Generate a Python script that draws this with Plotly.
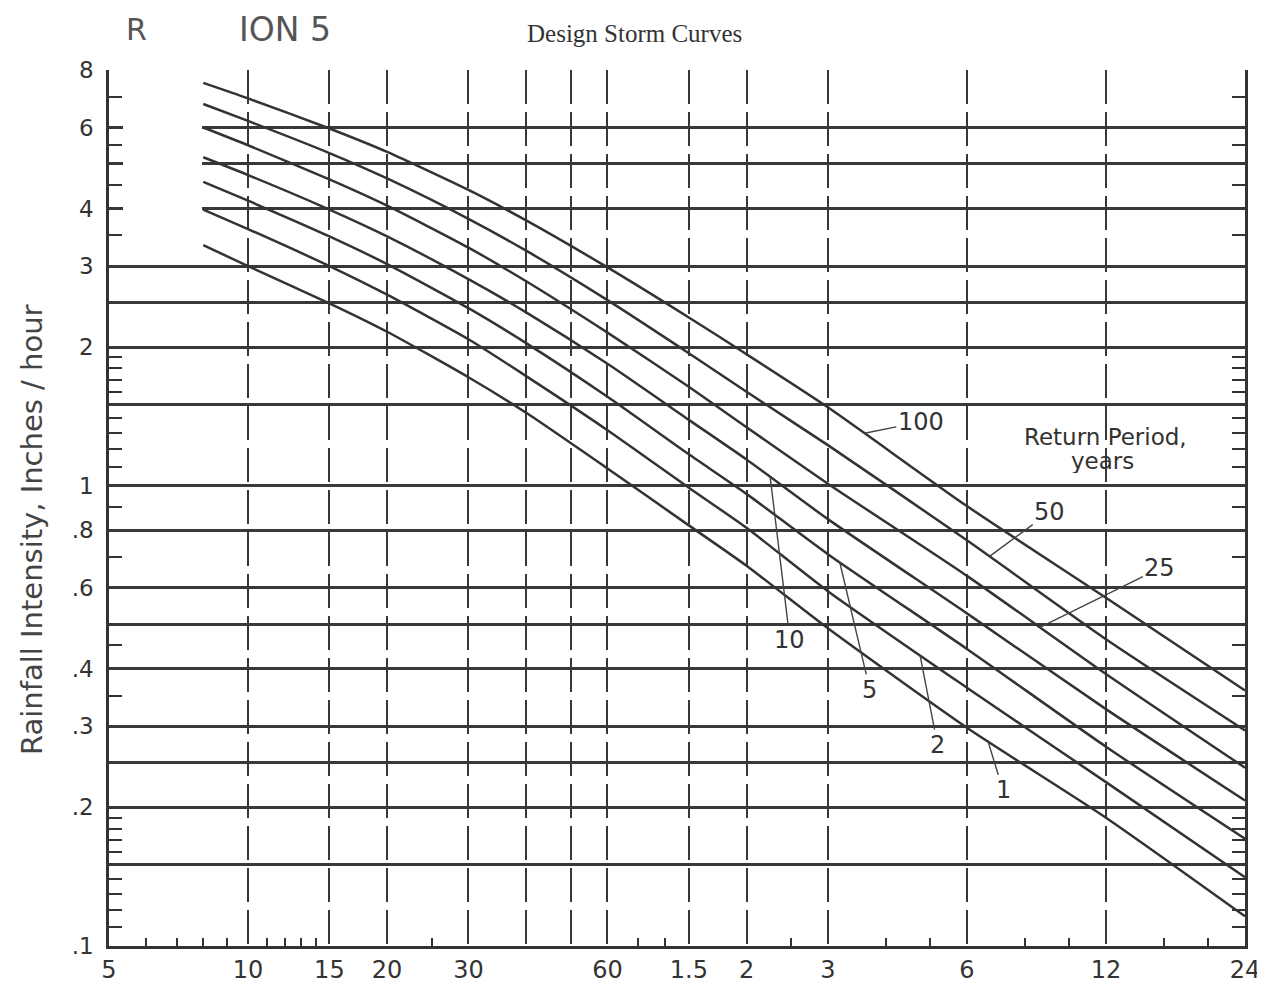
import numpy as np
import plotly.graph_objects as go

# ---------------- data ----------------
durations_min = [8, 10, 15, 20, 30, 40, 60, 90, 120, 180, 360, 720, 1440]
return_periods = ["100", "50", "25", "10", "5", "2", "1"]
i_100 = [7.5, 6.94, 5.97, 5.31, 4.39, 3.77, 2.98, 2.32, 1.93, 1.48, 0.903, 0.571, 0.359]
i_50 = [6.75, 6.20, 5.28, 4.65, 3.80, 3.24, 2.53, 1.94, 1.60, 1.225, 0.761, 0.464, 0.294]
i_25 = [6.0, 5.49, 4.63, 4.06, 3.29, 2.78, 2.15, 1.64, 1.34, 1.01, 0.637, 0.390, 0.244]
i_10 = [5.17, 4.73, 3.98, 3.48, 2.81, 2.38, 1.84, 1.39, 1.14, 0.846, 0.528, 0.327, 0.207]
i_5 = [4.57, 4.16, 3.48, 3.03, 2.43, 2.04, 1.56, 1.17, 0.96, 0.71, 0.442, 0.271, 0.171]
i_2 = [3.98, 3.61, 3.00, 2.60, 2.08, 1.73, 1.32, 0.99, 0.81, 0.59, 0.364, 0.227, 0.141]
i_1 = [3.33, 3.00, 2.49, 2.16, 1.72, 1.44, 1.09, 0.82, 0.67, 0.49, 0.298, 0.190, 0.116]
series = [i_100, i_50, i_25, i_10, i_5, i_2, i_1]

# axis ticks
x_tickvals = [5, 10, 15, 20, 30, 40, 50, 60, 90, 120, 180, 360, 720, 1440]
x_ticktext = ["5", "10", "15", "20", "30", "", "", "60", "1.5", "2", "3", "6", "12", "24"]
x_minor = [6, 7, 8, 9, 11, 12, 13, 14, 25, 70, 80, 150, 240, 300, 480, 600, 960, 1200]
y_tickvals = [0.1, 0.15, 0.2, 0.25, 0.3, 0.4, 0.5, 0.6, 0.8, 1, 1.5, 2, 2.5, 3, 4, 5, 6, 8]
y_ticktext = [".1", "", ".2", "", ".3", ".4", "", ".6", ".8", "1", "", "2", "", "3", "4", "", "6", "8"]
y_minor = [0.11, 0.12, 0.13, 0.14, 0.16, 0.17, 0.18, 0.19, 0.35, 0.45, 0.7, 0.9,
           1.1, 1.2, 1.3, 1.4, 1.6, 1.7, 1.8, 1.9, 3.5, 4.5, 5.5, 7]

# label placement: (duration of pointer on curve, text duration, text intensity)
label_pos = {
    "100": (216, 286, 1.375),
    "50": (403, 544, 0.876),
    "25": (518, 942, 0.662),
    "10": (135, 149, 0.462),
    "5": (191, 222, 0.360),
    "2": (285, 311, 0.273),
    "1": (400, 431, 0.218),
}

X_MIN, X_MAX = 5, 1440
Y_MIN, Y_MAX = 0.1, 8
INK = "#333333"
GRID = "#383838"

fig = go.Figure()
for name, vals in zip(return_periods, series):
    fig.add_trace(go.Scatter(
        x=durations_min, y=vals, mode="lines", name=name,
        line=dict(color=INK, width=2.5, shape="spline", smoothing=0.6),
        hoverinfo="skip", showlegend=False,
    ))


def curve_at(vals, d):
    return float(10 ** np.interp(np.log10(d), np.log10(durations_min), np.log10(vals)))


annotations = []
for name, vals in zip(return_periods, series):
    d_head, d_txt, v_txt = label_pos[name]
    annotations.append(dict(
        x=np.log10(d_head), y=np.log10(curve_at(vals, d_head)), xref="x", yref="y",
        ax=np.log10(d_txt), ay=np.log10(v_txt), axref="x", ayref="y",
        text=name, showarrow=True, arrowhead=0, arrowwidth=1.4, arrowcolor="#444",
        standoff=0, xanchor="center", yanchor="middle",
        font=dict(family="DejaVu Sans", size=24, color="#333"),
    ))

annotations += [
    dict(x=np.log10(719), y=np.log10(1.276), xref="x", yref="y", text="Return Period,",
         xanchor="center", yanchor="middle", height=24, showarrow=False,
         font=dict(family="DejaVu Sans", size=23, color="#333")),
    dict(x=np.log10(709), y=np.log10(1.131), xref="x", yref="y", text="years",
         xanchor="center", yanchor="middle", height=24, showarrow=False,
         font=dict(family="DejaVu Sans", size=23, color="#333")),
    dict(x=0.463, y=1.042, xref="paper", yref="paper", text="Design Storm Curves",
         xanchor="center", yanchor="middle", showarrow=False,
         font=dict(family="Liberation Serif", size=25, color="#333")),
    dict(x=0.0246, y=1.0457, xref="paper", yref="paper", text="R",
         xanchor="center", yanchor="middle", showarrow=False,
         font=dict(family="DejaVu Sans", size=30, color="#555")),
    dict(x=0.155, y=1.0457, xref="paper", yref="paper", text="ION 5",
         xanchor="center", yanchor="middle", showarrow=False,
         font=dict(family="DejaVu Sans", size=33, color="#555")),
    dict(x=-0.0678, y=0.476, xref="paper", yref="paper", text="Rainfall Intensity, Inches / hour",
         textangle=-90, xanchor="center", yanchor="middle", showarrow=False,
         font=dict(family="DejaVu Sans", size=29, color="#444")),
]

# blank (whited-out) corner of the scanned sheet, top-left
LOG_SPAN_X = np.log10(X_MAX) - np.log10(X_MIN)
LOG_SPAN_Y = np.log10(Y_MAX) - np.log10(Y_MIN)
WHITE_X0 = 14 / 1136
WHITE_X1 = (np.log10(7.95) - np.log10(X_MIN)) / LOG_SPAN_X
WHITE_Y0 = (np.log10(3.2) - np.log10(Y_MIN)) / LOG_SPAN_Y
shapes = [dict(type="rect", xref="paper", yref="paper", x0=WHITE_X0, x1=WHITE_X1,
               y0=WHITE_Y0, y1=1.01, fillcolor="white", line=dict(width=0), layer="above")]

# the page body adds an 8 px offset, so the figure is 8 px smaller than the window
fig.update_layout(
    width=1257, height=996,
    margin=dict(l=101, r=20, t=62, b=58),
    paper_bgcolor="white", plot_bgcolor="white",
    template="none", showlegend=False, hovermode=False,
    annotations=annotations, shapes=shapes,
    xaxis=dict(
        type="log", range=[np.log10(X_MIN), np.log10(X_MAX)], automargin=False,
        tickmode="array", tickvals=x_tickvals, ticktext=x_ticktext, ticks="",
        ticklabeloverflow="allow",
        tickfont=dict(family="DejaVu Sans", size=24, color="#333"),
        showgrid=True, gridcolor=GRID, gridwidth=2, griddash="34px,8px",
        showline=True, linecolor=INK, linewidth=2.5, mirror=False, zeroline=False,
        minor=dict(tickmode="array", tickvals=x_minor, ticks="inside", ticklen=8,
                   tickwidth=2, tickcolor=INK, showgrid=False),
    ),
    yaxis=dict(
        type="log", range=[np.log10(Y_MIN), np.log10(Y_MAX)], automargin=False,
        tickmode="array", tickvals=y_tickvals, ticktext=y_ticktext, ticks="",
        ticklabelstandoff=8, ticklabeloverflow="allow",
        tickfont=dict(family="DejaVu Sans", size=23, color="#333"),
        showgrid=True, gridcolor=GRID, gridwidth=2.5,
        showline=True, linecolor=INK, linewidth=2.5, mirror="ticks", zeroline=False,
        minor=dict(tickmode="array", tickvals=y_minor, ticks="inside", ticklen=13,
                   tickwidth=2, tickcolor=INK, showgrid=False),
    ),
)

fig.write_html("out.html")
